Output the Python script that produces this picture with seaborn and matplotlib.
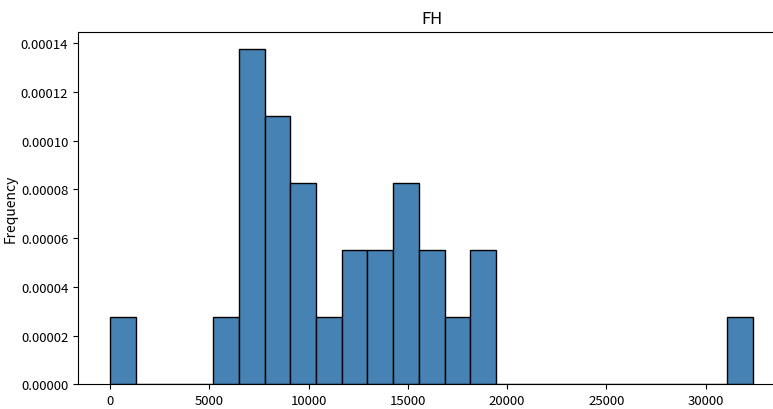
import numpy as np
import pandas as pd
import matplotlib
matplotlib.use("Agg")
import matplotlib.pyplot as plt
import seaborn as sns

plt.rcParams["font.family"] = ["Noto Sans CJK SC", "DejaVu Sans"]

# FH 样本值（从图中估读，共28个）
fh_values = [0,
             5800,
             6700, 6900, 7100, 7300, 7600,
             8000, 8300, 8600, 8900,
             9300, 9700, 10100,
             11000,
             12000, 12500,
             13300, 13900,
             14500, 15000, 15300,
             15900, 16400,
             17500,
             18500, 19000,
             32400]
n_bins = 25

df = pd.DataFrame({"FH": fh_values})

fig = plt.figure(figsize=(7.73, 4.10), dpi=100)
ax = fig.add_axes([0.101, 0.06, 0.915, 0.86])
sns.histplot(data=df, x="FH", bins=n_bins, stat="density",
             color="steelblue", edgecolor="black", alpha=1, linewidth=1, ax=ax)
ax.set_title("FH")
ax.set_xlabel("")
ax.set_ylabel("Frequency")
ax.tick_params(labelsize=9.5)
ax.yaxis.set_label_coords(-0.086, 0.5)
fig.savefig("out.png", dpi=100)
